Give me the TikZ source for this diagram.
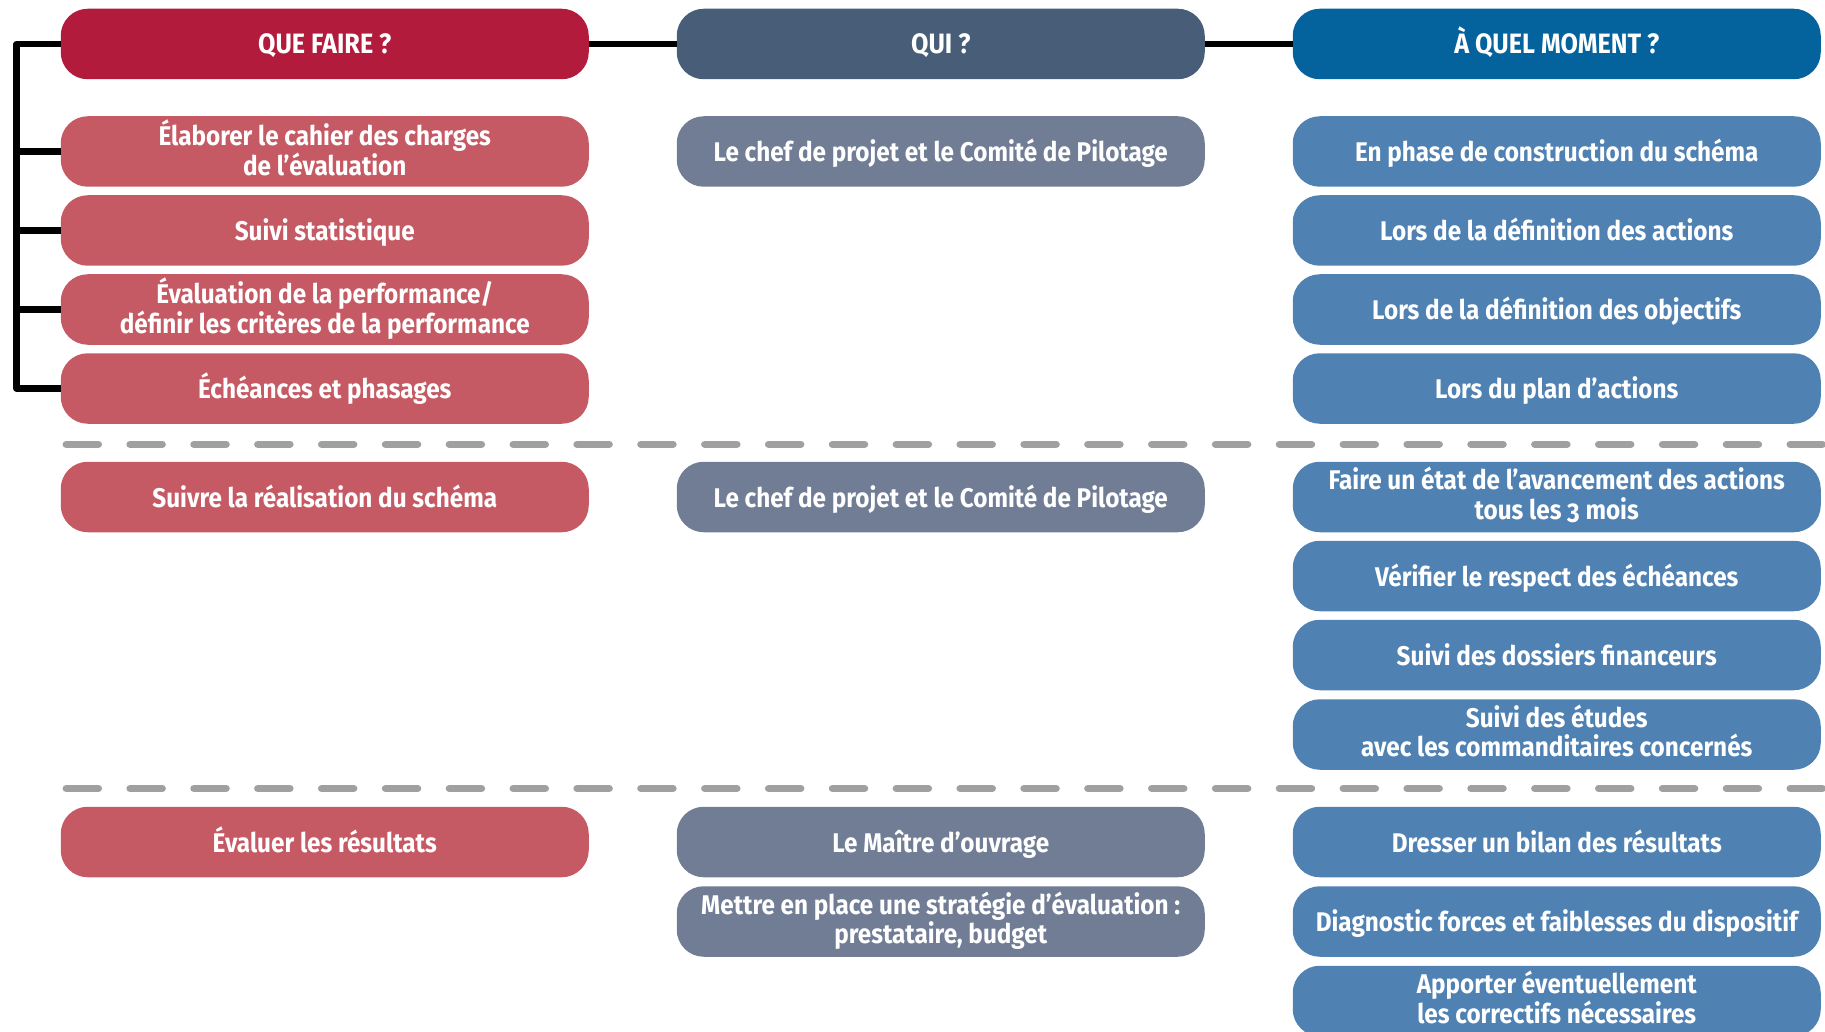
\documentclass[tikz,border=0pt]{standalone}
\usepackage{fontspec}
\setmainfont{Fira Sans}[FakeStretch=0.9,Numbers=OldStyle]
\usepackage{tikz}
\definecolor{quoiH}{HTML}{B31B3C}
\definecolor{quoi}{HTML}{C65A64}
\definecolor{quiH}{HTML}{475D78}
\definecolor{qui}{HTML}{717D95}
\definecolor{quandH}{HTML}{04629C}
\definecolor{quand}{HTML}{4F81B3}
\definecolor{sepgray}{HTML}{A0A0A0}
\newcommand\topstrut{\rule{0pt}{28pt}}
\newcommand\tallstrut{\rule{0pt}{31.5pt}}
\newcommand\botstrut{\rule[-8pt]{0pt}{8pt}}
\tikzset{
  cell/.style={rectangle, rounded corners=27pt, minimum width=528pt, minimum height=70.5pt,
    inner sep=0pt, align=center, text=white, font=\bfseries\fontsize{27}{29.5}\selectfont,
    execute at begin node=\topstrut, execute at end node=\botstrut},
  twoline/.style={execute at begin node=\tallstrut},
  hdr/.style={cell, font=\bfseries\fontsize{28}{30}\selectfont},
  quoicell/.style={cell, fill=quoi},
  quicell/.style={cell, fill=qui},
  quandcell/.style={cell, fill=quand},
  brace/.style={draw=black, line width=6.5pt, line join=round},
  sep/.style={draw=sepgray, line width=7.3pt, line cap=round, dash pattern=on 32.2pt off 31.65pt}
}

\begin{document}
\begin{tikzpicture}[x=1pt,y=-1pt]
  \useasboundingbox (0,0) rectangle (1825,1032);
  \def\xa{324.75}
  \def\xb{940.75}
  \def\xc{1556.75}
  % headers
  \node[hdr, fill=quoiH] (h1) at (\xa,44) {QUE FAIRE ?};
  \node[hdr, fill=quiH] (h2) at (\xb,44) {QUI ?};
  \node[hdr, fill=quandH] (h3) at (\xc,44) {À QUEL MOMENT ?};
  \draw[brace] (h1.east) -- (h2.west);
  \draw[brace] (h2.east) -- (h3.west);
  % first block
  \node[quoicell, twoline] (a1) at (\xa,151.5) {Élaborer le cahier des charges\\de l’évaluation};
  \node[quoicell] (a2) at (\xa,230.5) {Suivi statistique};
  \node[quoicell, twoline] (a3) at (\xa,309.5) {Évaluation de la performance/\\définir les critères de la performance};
  \node[quoicell] (a4) at (\xa,388.5) {Échéances et phasages};
  \node[quicell] (b1) at (\xb,151.5) {Le chef de projet et le Comité de Pilotage};
  \node[quandcell] (c1) at (\xc,151.5) {En phase de construction du schéma};
  \node[quandcell] (c2) at (\xc,230.5) {Lors de la définition des actions};
  \node[quandcell] (c3) at (\xc,309.5) {Lors de la définition des objectifs};
  \node[quandcell] (c4) at (\xc,388.5) {Lors du plan d’actions};
  % bracket on the left
  \coordinate (top) at (16.7,44);
  \coordinate (bot) at (16.7,388.5);
  \draw[brace] (h1.west) -- (top) -- (bot) -- (a4.west);
  \foreach \n in {a1,a2,a3}
    \draw[brace] (\n.west) -- (\n.west -| top);
  \coordinate (s1) at (66.2,444.3);
  \coordinate (s1e) at (1830,444.3);
  \draw[sep] (s1) -- (s1e);
  % second block
  \node[quoicell] (a5) at (\xa,497) {Suivre la réalisation du schéma};
  \node[quicell] (b5) at (\xb,497) {Le chef de projet et le Comité de Pilotage};
  \node[quandcell, twoline] (c5) at (\xc,497) {Faire un état de l’avancement des actions\\tous les 3 mois};
  \node[quandcell] (c6) at (\xc,576) {Vérifier le respect des échéances};
  \node[quandcell] (c7) at (\xc,655) {Suivi des dossiers financeurs};
  \node[quandcell, twoline] (c8) at (\xc,734.5) {Suivi des études\\avec les commanditaires concernés};
  \coordinate (s2) at (66.2,788.5);
  \coordinate (s2e) at (1830,788.5);
  \draw[sep] (s2) -- (s2e);
  % third block
  \node[quoicell] (a9) at (\xa,842) {Évaluer les résultats};
  \node[quicell] (b9) at (\xb,842) {Le Maître d’ouvrage};
  \node[quicell, twoline] (b10) at (\xb,921.5) {Mettre en place une stratégie d’évaluation :\\prestataire, budget};
  \node[quandcell] (c9) at (\xc,842) {Dresser un bilan des résultats};
  \node[quandcell] (c10) at (\xc,921.5) {Diagnostic forces et faiblesses du dispositif};
  \node[quandcell, twoline] (c11) at (\xc,1001) {Apporter éventuellement\\les correctifs nécessaires};
\end{tikzpicture}
\end{document}
